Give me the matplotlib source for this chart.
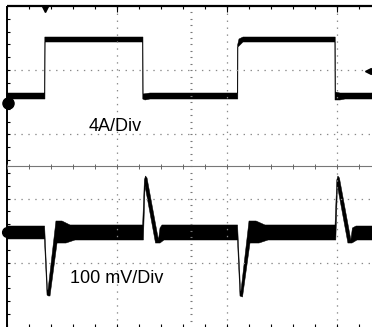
"""
Load-step response: inductor current (top) and output voltage (bottom)
"""

import numpy as np
import matplotlib
matplotlib.use("Agg")
import matplotlib.pyplot as plt

plt.rcParams["font.family"] = ["Liberation Sans", "DejaVu Sans"]
plt.rcParams["lines.scale_dashes"] = False

# time axis in divisions from the left screen edge

# channel 1 current (A), outline of the trace band
i_top_t = [0, 0.342, 0.344, 1.236, 1.238, 1.3, 2.0945, 2.0964, 2.109, 2.1455,
           2.9836, 2.9855, 3.027, 3.318]
i_top = [0.654, 0.654, 4.143, 4.143, 0.592, 0.654, 0.654, 3.645, 4.018, 4.143,
         4.143, 0.716, 0.654, 0.654]
i_bot_t = [0, 0.345, 0.347, 1.2327, 1.2345, 1.255, 1.3, 2.0982, 2.1, 2.1455,
           2.98, 2.9818, 3.027, 3.073, 3.318]
i_bot = [0.28, 0.28, 3.831, 3.831, 0.28, 0.218, 0.28, 0.28, 3.52, 3.831,
         3.831, 0.218, 0.218, 0.28, 0.28]

# channel 2 output voltage deviation (mV), outline of the noisy band
v_top_t = [0, 0.342, 0.368, 0.373, 0.445, 0.5, 0.573, 1.233, 1.249, 1.259,
           1.273, 1.377, 1.391, 1.409, 2.096, 2.123, 2.127, 2.2, 2.264, 2.345,
           2.982, 2.998, 3.008, 3.022, 3.126, 3.14, 3.173, 3.318]
v_top = [10.1, 10.1, -89.6, -89.6, 17.9, 17.9, 11.7, 11.7, 81.8, 88.0,
         84.9, -11.7, 7.0, 11.7, 11.7, -91.1, -91.1, 17.9, 17.9, 11.7,
         11.7, 81.8, 88.0, 84.9, -11.7, 7.0, 10.1, 10.1]
v_bot_t = [0, 0.34, 0.364, 0.377, 0.391, 0.455, 0.536, 0.618, 1.231, 1.24,
           1.255, 1.35, 1.391, 1.427, 2.095, 2.118, 2.141, 2.209, 2.291, 2.373,
           2.98, 2.989, 3.004, 3.099, 3.136, 3.182, 3.318]
v_bot = [-10.1, -10.1, -97.4, -98.9, -98.9, -16.4, -16.4, -11.7, -11.7, -11.7,
         72.4, -16.4, -16.4, -11.7, -11.7, -98.9, -100.5, -16.4, -16.4, -11.7,
         -11.7, -11.7, 72.4, -16.4, -16.4, -11.7, -11.7]

ch1_offset = 3.481   # div, channel 1 ground marker
ch2_offset = 1.472   # div, channel 2 ground marker
amp_per_div = 4.0
mv_per_div = 100.0
center_x = 1.673     # screen centre axis

fig = plt.figure(figsize=(3.72, 3.27), dpi=100)
ax = fig.add_axes([0, 0, 1, 1])
ax.set_xlim(-0.0636, 3.318)
ax.set_ylim(0, 5.093)
ax.axis("off")

grid_c = "#8a8a8a"

# graticule
for x in [1, 2, 3]:
    ax.plot([x, x], [0, 5], color=grid_c, lw=0.9, ls=(0, (1, 4)))
for y in [1, 2, 3, 4]:
    ax.plot([0, 3.318], [y, y], color=grid_c, lw=0.9, ls=(0, (1, 4)))
ax.plot([0, 3.318], [2.5, 2.5], color="#777777", lw=0.8)
ax.plot([0, 3.318], [5, 5], color="k", lw=1.6, solid_capstyle="butt")
ax.plot([0, 0], [0, 5], color="k", lw=1.4, solid_capstyle="butt")

xs = np.arange(0, 3.32, 0.2)
ys = np.arange(0.2, 5, 0.2)
ax.vlines(xs, 4.955, 5, color="k", lw=0.8)
ax.vlines([1, 2, 3], 4.91, 5, color="k", lw=0.8)
ax.vlines(xs, 0, 0.05, color="k", lw=0.8)
ax.vlines(xs, 2.46, 2.54, color="#666666", lw=0.7)
ax.hlines(ys, 0, 0.03, color="k", lw=0.8)
ax.hlines(np.arange(0.1, 5, 0.1), center_x - 0.012, center_x + 0.012,
          color="#777777", lw=0.8)

# traces
ax.fill(np.concatenate([i_top_t, i_bot_t[::-1]]),
        ch1_offset + np.concatenate([i_top, i_bot[::-1]]) / amp_per_div,
        facecolor="k", edgecolor="k", lw=0.35)
ax.fill(np.concatenate([v_top_t, v_bot_t[::-1]]),
        ch2_offset + np.concatenate([v_top, v_bot[::-1]]) / mv_per_div,
        facecolor="k", edgecolor="k", lw=0.35)

# channel / trigger markers
ax.plot(0.005, ch1_offset, "o", ms=8, color="k")
ax.plot(0.0, ch2_offset, "o", ms=7, color="k")
ax.plot(0.345, 4.955, "v", ms=4, color="k")
ax.plot(3.282, 3.988, "<", ms=4, color="k")

ax.text(0.745, 3.053, "4A/Div", fontsize=13, va="baseline")
ax.text(0.573, 0.685, "100 mV/Div", fontsize=13, va="baseline")

fig.savefig("out.png", dpi=100)
